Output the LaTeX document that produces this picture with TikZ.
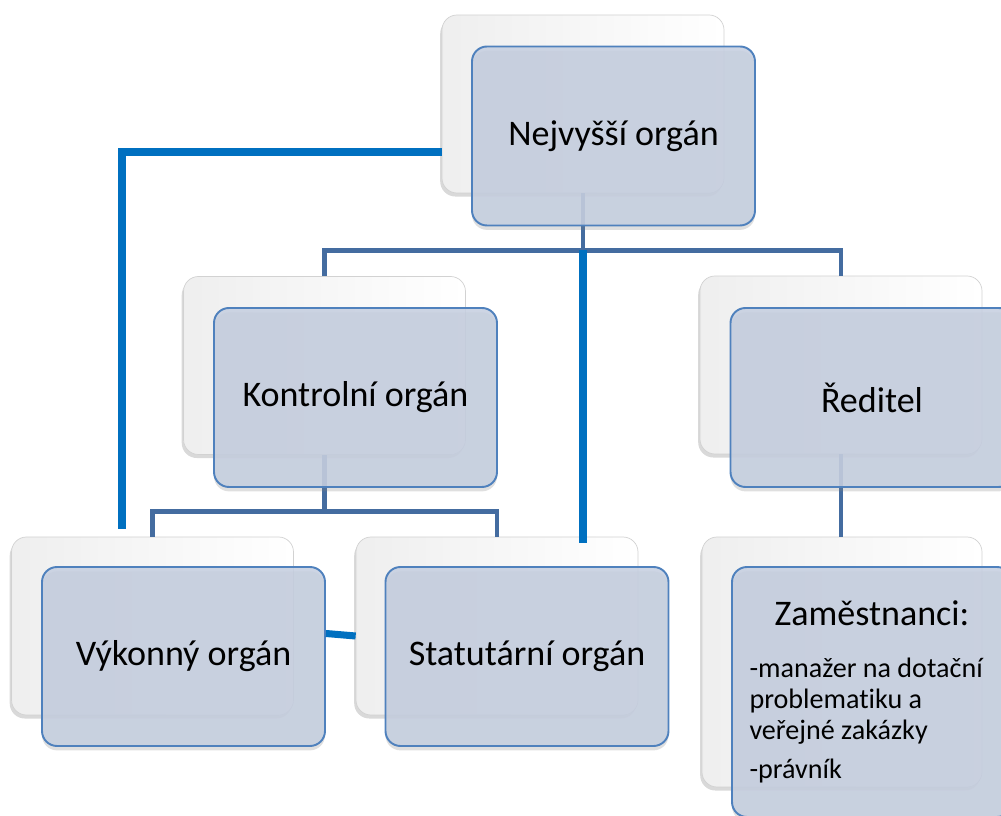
\documentclass[tikz,border=0pt]{standalone}
\usepackage{fontspec}
\setmainfont{Carlito}[Ligatures=NoCommon]
\usepackage{tikz}
\usetikzlibrary{shapes,shadows,arrows}

\definecolor{linkblue}{RGB}{68,108,160}
\definecolor{mainblue}{RGB}{0,112,192}
\definecolor{boxedge}{RGB}{79,129,189}
\definecolor{boxfill}{RGB}{198,207,224}

\begin{document}
\begin{tikzpicture}[
  backbox/.style={rounded corners=0.3cm, draw=gray!35, left color=gray!13, middle color=white, right color=white,
    minimum width=5.64cm, minimum height=3.56cm,
    drop shadow={shadow xshift=-1pt, shadow yshift=-2pt, opacity=0.3}},
  frontbox/.style={rounded corners=0.3cm, draw=boxedge, line width=1.1pt, fill=boxfill, fill opacity=0.88, text opacity=1,
    minimum width=5.66cm, minimum height=3.58cm, font=\fontsize{20.5}{24}\selectfont,
    drop shadow={shadow xshift=0pt, shadow yshift=-2.5pt, opacity=0.25}},
  link/.style={linkblue, line width=2.8pt},
  mainlink/.style={mainblue, line width=4pt}]

  \useasboundingbox (0,0) rectangle (20.02,-16.32);

  \node[backbox] (nb) at (11.66,-2.08) {};
  \node[backbox] (kb) at (6.49,-7.31) {};
  \node[backbox] (rb) at (16.82,-7.30) {};
  \node[backbox] (vb) at (3.05,-12.52) {};
  \node[backbox] (sb) at (9.94,-12.52) {};
  \node[backbox, minimum width=5.6cm, minimum height=5cm] (zb) at (16.84,-13.24) {};

  \draw[link] (nb.south) -- ++(0,-1.14) coordinate (topfork);
  \draw[link] (kb.north) |- (topfork) -| (rb.north);
  \draw[link] (kb.south) -- ++(0,-1.13) coordinate (midfork);
  \draw[link] (vb.north) |- (midfork) -| (sb.north);
  \draw[link] (rb.south) -- (rb.south |- zb.north);

  \node[frontbox] (nf) at (12.27,-2.72) {Nejvyšší orgán};
  \node[frontbox] (kf) at (7.11,-7.95) {Kontrolní orgán};
  \node[frontbox] (rf) at (17.44,-7.95) {Ředitel};
  \node[frontbox] (vf) at (3.67,-13.13) {Výkonný orgán};
  \node[frontbox] (sf) at (10.54,-13.13) {Statutární orgán};
  \node[frontbox, minimum width=5.6cm, minimum height=5cm, text width=4.9cm, align=flush left,
    font=\fontsize{16}{17.6}\selectfont] (zf) at (17.44,-13.84)
    {\makebox[\linewidth]{\fontsize{20.5}{24}\selectfont Zaměstnanci:}\\[12pt]
     -manažer na dotační\\problematiku a\\veřejné zakázky\\[5pt]-právník};

  \draw[mainlink] (nb.west |- 0,-3.04) -| (2.44,-10.58) coordinate (vtop);
  \draw[mainlink] (topfork) -- ([yshift=-0.12cm]topfork |- sb.north);
  \draw[mainlink] ([yshift=0.46cm]vf.east) -- ([yshift=-0.2cm]sb.west);

\end{tikzpicture}
\end{document}
